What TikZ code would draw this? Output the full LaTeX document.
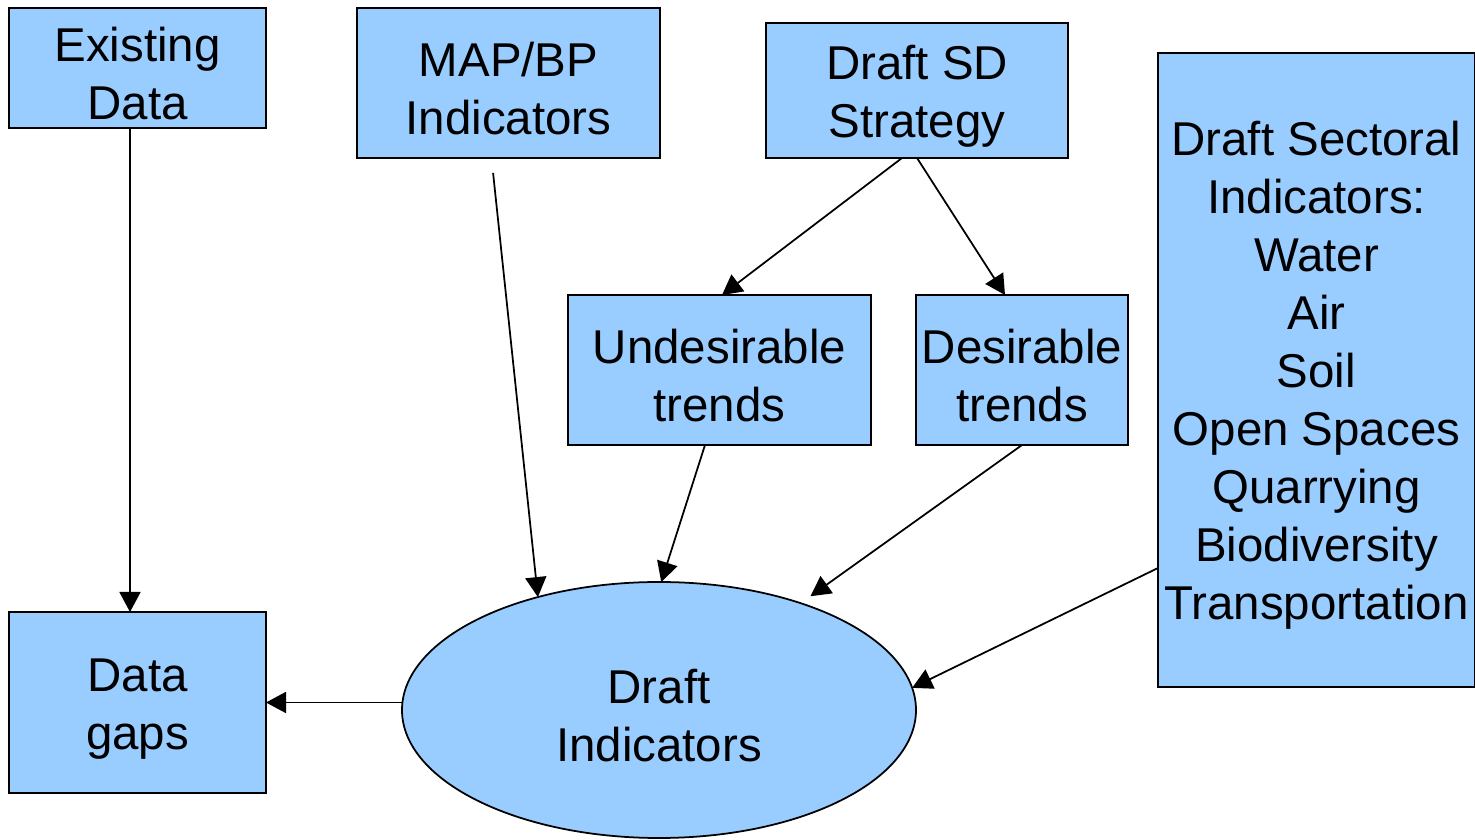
\documentclass[tikz,border=0pt]{standalone}
\usepackage{fontspec}
\setmainfont{Liberation Sans}
\usepackage{xcolor}
\usetikzlibrary{arrows.meta}
\usetikzlibrary{shapes.geometric}
\definecolor{boxblue}{HTML}{99CCFF}
\newcommand{\tpad}{\rule{0pt}{0.9cm}}

\begin{document}
\begin{tikzpicture}[
    box/.style={draw, fill=boxblue, line width=1pt, inner sep=0pt, outer sep=0pt,
      align=center, font=\fontsize{27}{33}\selectfont},
    arr/.style={-{Triangle[length=0.4cm,width=0.42cm]}, line width=1pt}]
    \useasboundingbox (0,0) rectangle (29.5,16.8);
    % top row
    \node[box, minimum width=5.14cm, minimum height=2.4cm] (exist) at (2.75,15.44) {\tpad Existing\\Data};
    \node[box, minimum width=6.06cm, minimum height=3cm] (mapbp) at (10.17,15.14) {\tpad MAP/BP\\Indicators};
    \node[box, minimum width=6.04cm, minimum height=2.7cm] (sd) at (18.34,14.99) {\tpad Draft SD\\Strategy};
    \node[box, minimum width=6.34cm, minimum height=12.68cm] (sect) at (26.33,9.4)
      {\tpad Draft Sectoral\\Indicators:\\Water\\Air\\Soil\\Open Spaces\\Quarrying\\Biodiversity\\Transportation};
    % trends
    \node[box, minimum width=6.06cm, minimum height=3cm] (undes) at (14.39,9.4) {\tpad Undesirable\\trends};
    \node[box, minimum width=4.24cm, minimum height=3cm] (des) at (20.44,9.4) {\tpad Desirable\\trends};
    % bottom row
    \node[box, minimum width=5.14cm, minimum height=3.62cm] (gaps) at (2.75,2.75) {\tpad Data\\gaps};
    \node[box, ellipse, minimum width=10.28cm, minimum height=5.12cm] (draft) at (13.18,2.6) {\tpad Draft\\Indicators};
    %
    \draw[arr] ([xshift=-0.15cm]exist.south) -- ([xshift=-0.15cm]gaps.north);
    \draw[arr, shorten <=0.3cm] ([xshift=-0.34cm]mapbp.south) -- (draft.137);
    \draw[arr] ([xshift=-0.3cm]sd.south) -- ([xshift=0.05cm]undes.north);
    \draw[arr] (sd.south) -- ([xshift=-0.34cm]des.north);
    \draw[arr] ([xshift=-0.29cm]undes.south) -- (draft.89);
    \draw[arr, shorten >=0.24cm] (des.south) -- (draft.37);
    \draw[arr] ([yshift=-3.96cm]sect.west) -- (draft.5);
    \draw[arr] (draft.west |- gaps.east) -- (gaps.east);
\end{tikzpicture}
\end{document}
